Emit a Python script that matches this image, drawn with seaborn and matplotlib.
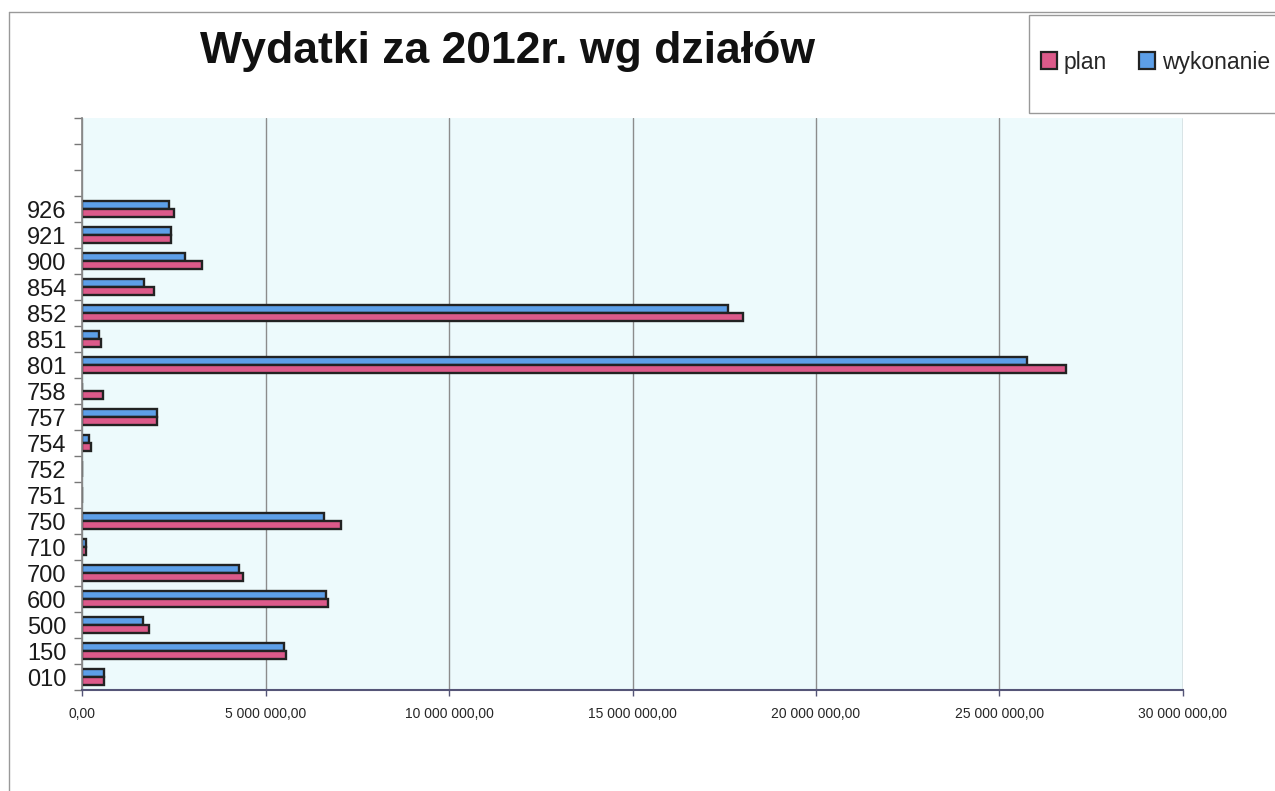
import numpy as np
import pandas as pd
import matplotlib
matplotlib.use("Agg")
import matplotlib.pyplot as plt
import seaborn as sns
from matplotlib.patches import Patch, Rectangle
from matplotlib.lines import Line2D
from matplotlib.ticker import FuncFormatter

# --- data (values in PLN) ---
categories = ["926", "921", "900", "854", "852", "851", "801", "758", "757", "754",
              "752", "751", "750", "710", "700", "600", "500", "150", "010"]
plan_mln = [2.51, 2.43, 3.27, 1.95, 18.00, 0.53, 26.80, 0.56, 2.03, 0.25,
            0.0, 0.0, 7.06, 0.11, 4.39, 6.70, 1.82, 5.56, 0.60]
wykonanie_mln = [2.36, 2.42, 2.80, 1.70, 17.60, 0.47, 25.75, 0.0, 2.03, 0.18,
                 0.0, 0.0, 6.59, 0.11, 4.29, 6.64, 1.65, 5.50, 0.60]
series_names = ["plan", "wykonanie"]
x_ticks = [0, 5e6, 10e6, 15e6, 20e6, 25e6, 30e6]
title = "Wydatki za 2012r. wg działów"

df = pd.DataFrame({
    "dzial": categories * 2,
    "wartosc": [v * 1e6 for v in plan_mln] + [v * 1e6 for v in wykonanie_mln],
    "seria": ["plan"] * len(categories) + ["wykonanie"] * len(categories),
})

colors = {"plan": "#dc5a8a", "wykonanie": "#5d9fe8"}

sns.set_theme(style="white")
plt.rcParams["font.family"] = ["Liberation Sans", "DejaVu Sans"]

fig = plt.figure(figsize=(12.75, 7.91), dpi=100)
ax = fig.add_axes([82 / 1275, 1 - 690 / 791, (1183 - 82) / 1275, (690 - 118) / 791])
ax.set_facecolor("#edfafc")

sns.barplot(data=df, x="wartosc", y="dzial", hue="seria", order=categories,
            hue_order=["wykonanie", "plan"], palette=colors, orient="h",
            width=0.62, edgecolor="#222222", linewidth=1.7, legend=False,
            saturation=1, ax=ax)

ax.set_xlim(0, 30e6)
ax.set_ylim(len(categories) - 0.5, -3.5)
ax.set_xticks(x_ticks)
ax.xaxis.set_major_formatter(FuncFormatter(
    lambda v, p: "0,00" if v == 0 else f"{int(v):,}".replace(",", " ") + ",00"))
ax.set_yticks(np.arange(-3.5, len(categories), 1), minor=True)
ax.tick_params(axis="y", which="major", length=0, labelsize=17, pad=11,
               labelcolor="#1a1a1a")
ax.tick_params(axis="y", which="minor", length=6, width=1, color="#777777",
               direction="out", left=True)
ax.tick_params(axis="x", which="major", length=4, width=1, color="#555577",
               direction="out", bottom=True, labelsize=10, pad=8)
ax.set_xlabel("")
ax.set_ylabel("")

ax.xaxis.grid(True, color="#8c8c8c", linewidth=1)
ax.yaxis.grid(False)
ax.set_axisbelow(True)
for s in ["top", "right"]:
    ax.spines[s].set_visible(False)
ax.spines["left"].set_color("#888888")
ax.spines["bottom"].set_color("#555577")
ax.spines["bottom"].set_linewidth(1.5)

# title
fig.text(508 / 1275, 1 - 52 / 791, title, ha="center", va="center",
         fontsize=32, fontweight="bold", color="#111111")

# outer chart border
fig.add_artist(Line2D([9 / 1275, 9 / 1275], [0, 1 - 12 / 791], color="#999999", lw=1))
fig.add_artist(Line2D([9 / 1275, 1], [1 - 12 / 791, 1 - 12 / 791], color="#999999", lw=1))

# legend box
fig.add_artist(Rectangle((1029 / 1275, 1 - 113 / 791), 260 / 1275, 98 / 791,
                         transform=fig.transFigure, facecolor="white",
                         edgecolor="#999999", lw=1))
handles = [Patch(facecolor=colors[n], edgecolor="#222222", linewidth=1.6, label=n)
           for n in series_names]
fig.legend(handles=handles, loc="center left", bbox_to_anchor=(1041 / 1275, 1 - 62 / 791),
           ncol=2, frameon=False, fontsize=16.5, handlelength=0.7, handleheight=0.7,
           handletextpad=0.3, columnspacing=1.4, borderaxespad=0, borderpad=0)

fig.savefig("out.png", dpi=100)
